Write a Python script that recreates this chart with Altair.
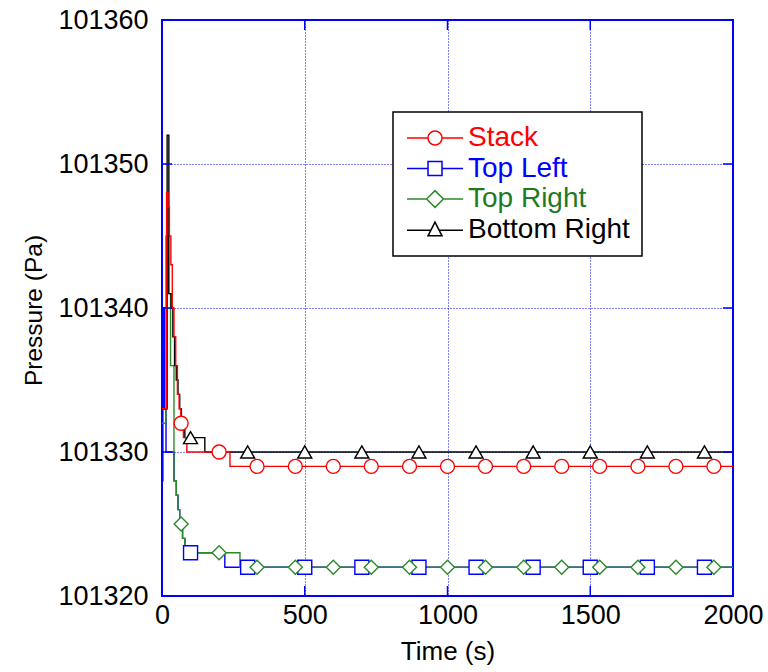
import altair as alt
import pandas as pd

# ---------------- data ----------------
series_names = ["Stack", "Top Left", "Top Right", "Bottom Right"]
series_colors = ["#ff0000", "#0000ff", "#2b8a2b", "#000000"]
label_colors = ["#ff0000", "#0000ff", "#1f7a1f", "#000000"]
series_shapes = ["circle", "square", "diamond", "triangle-up"]

# stepped pressure traces (time in s, pressure in Pa)
stack_t = [0, 16, 21, 26, 31, 36, 42, 48, 54, 60, 66, 75, 87, 238, 2000]
stack_p = [101333, 101348, 101347, 101345, 101343, 101340, 101338, 101336, 101334,
           101333, 101332, 101331, 101330, 101329, 101329]

topleft_t = [0, 3, 8, 14, 42, 50, 56, 62, 72, 80, 220, 2000]
topleft_p = [101328, 101340, 101333, 101330, 101328, 101327, 101326, 101325, 101324,
             101323, 101322, 101322]

topright_t = [0, 14, 22, 30, 42, 50, 56, 62, 72, 80, 273, 2000]
topright_p = [101332, 101345, 101341, 101336, 101328, 101327, 101326, 101325, 101324,
              101323, 101322, 101322]

bottomright_t = [0, 18, 24, 32, 38, 44, 50, 56, 62, 68, 80, 150, 2000]
bottomright_p = [101333, 101352, 101341, 101340, 101338, 101336, 101335, 101334, 101333,
                 101332, 101331, 101330, 101330]

# marker positions
stack_mt = [67, 200, 333, 467, 600, 733, 867, 1000, 1133, 1267, 1400, 1533, 1667, 1800, 1933]
stack_mp = [101332, 101330, 101329, 101329, 101329, 101329, 101329, 101329, 101329,
            101329, 101329, 101329, 101329, 101329, 101329]
topright_mt = [67, 200, 333, 467, 600, 733, 867, 1000, 1133, 1267, 1400, 1533, 1667, 1800, 1933]
topright_mp = [101325, 101323, 101322, 101322, 101322, 101322, 101322, 101322, 101322,
               101322, 101322, 101322, 101322, 101322, 101322]
topleft_mt = [100, 300, 500, 700, 900, 1100, 1300, 1500, 1700, 1900]
topleft_mp = [101323, 101322, 101322, 101322, 101322, 101322, 101322, 101322, 101322, 101322]
bottomright_mt = [100, 300, 500, 700, 900, 1100, 1300, 1500, 1700, 1900]
bottomright_mp = [101331, 101330, 101330, 101330, 101330, 101330, 101330, 101330, 101330, 101330]

x_ticks = [0, 500, 1000, 1500, 2000]
y_ticks = [101320, 101330, 101340, 101350, 101360]
x_inner = [500, 1000, 1500]
y_inner = [101330, 101340, 101350]

# ---------------- tables ----------------
def table(name, ts, ps):
    return pd.DataFrame({"series": name, "t": ts, "p": ps})

lines = pd.concat([
    table("Top Left", topleft_t, topleft_p),
    table("Top Right", topright_t, topright_p),
    table("Bottom Right", bottomright_t, bottomright_p),
    table("Stack", stack_t, stack_p),
], ignore_index=True)
lines["order"] = range(len(lines))

marker_tables = {
    "Top Left": table("Top Left", topleft_mt, topleft_mp),
    "Top Right": table("Top Right", topright_mt, topright_mp),
    "Stack": table("Stack", stack_mt, stack_mp),
    "Bottom Right": table("Bottom Right", bottomright_mt, bottomright_mp),
}

W, H = 571, 576
FONT = "Liberation Sans"
BLUE = "#0000ff"

color_scale = alt.Scale(domain=series_names, range=series_colors)

xs = alt.Scale(domain=[0, 2000], nice=False, zero=False)
ys = alt.Scale(domain=[101320, 101360], nice=False, zero=False)

# legend symbols: line with a marker in the middle (units of r = 7 px)
legend_paths = [
    "M-4,0H-1M1,0H4M1,0A1,1,0,1,1,-1,0A1,1,0,1,1,1,0Z",
    "M-4,0H-1M1,0H4M-1,-1H1V1H-1Z",
    "M-4,0H-1.2M1.2,0H4M-1.2,0L0,-1.2L1.2,0L0,1.2Z",
    "M-4,0.1H-0.58M0.58,0.1H4M0,-1.05L1,0.9L-1,0.9Z",
]
path_scale = alt.Scale(domain=series_names, range=legend_paths)

label_expr = (
    f"datum.value === 'Stack' ? '{label_colors[0]}' : "
    f"datum.value === 'Top Left' ? '{label_colors[1]}' : "
    f"datum.value === 'Top Right' ? '{label_colors[2]}' : '{label_colors[3]}'"
)

legend = alt.Legend(
    title=None,
    orient="none",
    legendX=231,
    legendY=92,
    padding=12,
    strokeColor="black",
    fillColor="white",
    cornerRadius=0,
    labelFont=FONT,
    labelFontSize=28,
    labelLimit=400,
    labelOffset=19,
    labelColor={"expr": label_expr},
    symbolFillColor="white",
    symbolOffset=16,
    symbolSize=196,
    symbolStrokeWidth=1.5,
    symbolOpacity=1,
    rowPadding=2.5,
)

x_enc = alt.X("t:Q", scale=xs, axis=alt.Axis(
    values=x_ticks, format="d", title="Time (s)", labelPadding=6,
    titleFontSize=26,
    titleX=W / 2, titleY=63, titleAlign="center", titleBaseline="alphabetic"))
y_enc = alt.Y("p:Q", scale=ys, axis=alt.Axis(
    values=y_ticks, format="d", title="Pressure (Pa)", labelPadding=14,
    titleFontSize=24.5,
    titleX=-121, titleY=290, titleAngle=270, titleAlign="center",
    titleBaseline="alphabetic"))

line_layer = alt.Chart(lines).mark_line(
    interpolate="step-after", strokeWidth=1.4
).encode(
    x=x_enc, y=y_enc,
    color=alt.Color("series:N", scale=color_scale, legend=legend),
    order=alt.Order("order:Q"),
)

marker_layers = []
for name in ["Top Left", "Top Right", "Stack", "Bottom Right"]:
    i = series_names.index(name)
    marker_layers.append(
        alt.Chart(marker_tables[name]).mark_point(
            shape=series_shapes[i], filled=False, fill="white", stroke=series_colors[i],
            opacity=1, size=196, strokeWidth=1.4
        ).encode(x=alt.X("t:Q", scale=xs), y=alt.Y("p:Q", scale=ys))
    )

# legend-only layer (no marks drawn; legend comes from the explicit domains)
legend_layer = alt.Chart(lines).transform_filter("false").mark_point(
    filled=False, fill="white", opacity=1, size=196, strokeWidth=1.5
).encode(
    x=alt.X("t:Q", scale=xs),
    y=alt.Y("p:Q", scale=ys),
    color=alt.Color("series:N", scale=color_scale, legend=legend),
    shape=alt.Shape("series:N", scale=path_scale, legend=legend),
)

xt = pd.DataFrame({"v": x_inner})
yt = pd.DataFrame({"v": y_inner})
tick_style = dict(color=BLUE, strokeWidth=1.5)
bottom_ticks = alt.Chart(xt).mark_rule(**tick_style).encode(
    x=alt.X("v:Q", scale=xs), y=alt.value(H), y2=alt.value(H - 10))
top_ticks = alt.Chart(xt).mark_rule(**tick_style).encode(
    x=alt.X("v:Q", scale=xs), y=alt.value(0), y2=alt.value(10))
left_ticks = alt.Chart(yt).mark_rule(**tick_style).encode(
    y=alt.Y("v:Q", scale=ys), x=alt.value(0), x2=alt.value(10))
right_ticks = alt.Chart(yt).mark_rule(**tick_style).encode(
    y=alt.Y("v:Q", scale=ys), x=alt.value(W), x2=alt.value(W - 10))

chart = alt.layer(
    line_layer, *marker_layers, legend_layer,
    bottom_ticks, top_ticks, left_ticks, right_ticks
).properties(
    width=W, height=H,
    autosize=alt.AutoSizeParams(type="none"),
    padding={"left": 162, "top": 20, "right": 35, "bottom": 76},
    background="white",
).configure_view(
    stroke=BLUE, strokeWidth=2
).configure_legend(
    strokeWidth=1.5
).configure_axis(
    labelFont=FONT, labelFontSize=27, labelColor="black",
    titleFont=FONT, titleFontWeight="normal", titleColor="black",
    domain=False, ticks=False,
    grid=True, gridColor=BLUE, gridDash=[1, 2], gridWidth=1, gridOpacity=1,
    labelFlush=False, labelOverlap=False,
)

chart.save("out.html", embed_options={"renderer": "svg", "actions": False})
